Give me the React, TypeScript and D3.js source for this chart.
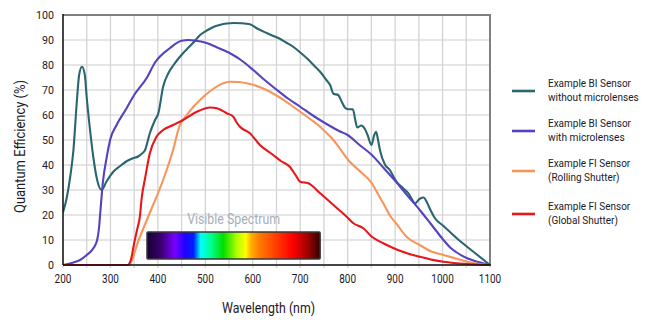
import React from "react";
import * as d3 from "d3";

// ---------- data ----------
const xTickValues = [200, 300, 400, 500, 600, 700, 800, 900, 1000, 1100];
const xGridValues = d3.range(200, 1101, 50);
const yTickValues = [0, 10, 20, 30, 40, 50, 60, 70, 80, 90, 100];

const biNoLensNm = [200, 208, 215, 222, 229, 234, 240, 246, 250, 257, 264, 272, 281, 292, 306, 320, 334, 345, 359, 366, 373, 383, 394, 401, 411, 422, 433, 443, 452, 462, 475, 489, 505, 517, 530, 545, 560, 575, 594, 610, 629, 645, 657, 670, 685, 700, 714, 728, 742, 755, 763, 770, 780, 787, 794, 801, 811, 816, 820, 829, 836, 842, 850, 856, 860, 864, 868, 879, 889, 896, 903, 917, 928, 935, 942, 952, 960, 966, 972, 984, 1002, 1030, 1065, 1100];
const biNoLensQe = [21, 27, 35, 46, 65, 76, 79.3, 76, 67, 54, 43, 34, 30, 33.5, 37.3, 39.5, 41.5, 42.5, 43.5, 44.5, 46, 52.7, 58, 60.7, 71.3, 76.7, 80, 82.5, 84.5, 86.5, 89, 92, 94, 95.2, 96, 96.6, 96.8, 96.7, 96.3, 94.5, 92.8, 91.5, 90.5, 89, 87.3, 85, 82.7, 80, 77.3, 74, 72, 68.5, 68, 65.5, 63, 62.3, 62.3, 58, 55, 55.8, 54.5, 52, 48, 52, 53.3, 50, 46, 40, 38, 35.5, 33.3, 30.7, 28.7, 26.5, 24.7, 26.5, 27, 25.5, 23, 18.7, 15.6, 10.7, 5.3, 0];

const biLensNm = [200, 222, 236, 250, 264, 272, 276, 279, 284, 292, 300, 313, 334, 350, 376, 394, 425, 450, 465, 480, 499, 525, 552, 575, 601, 625, 651, 675, 700, 725, 752, 783, 800, 825, 851, 875, 902, 925, 952, 975, 1002, 1016, 1030, 1052, 1075, 1100];
const biLensQe = [0, 1, 2, 4, 6.7, 10, 15, 22, 33, 43, 50.5, 56, 62.7, 68, 74.7, 81, 86.7, 89.7, 90, 89.7, 89, 87, 84.7, 82, 78, 74, 70, 66.5, 63.3, 60, 56.8, 53.5, 52, 48, 44, 39, 33.3, 28, 22, 16.5, 10, 7, 5, 2.7, 1.2, 0];

const fiRollingNm = [200, 338, 360, 380, 411, 432, 445, 461, 475, 496, 517, 535, 552, 570, 594, 610, 629, 657, 680, 700, 720, 742, 757, 770, 783, 801, 823, 851, 865, 875, 890, 902, 924, 952, 975, 1002, 1030, 1052, 1075, 1100];
const fiRollingQe = [0, 0, 10.3, 19.5, 34, 46, 55.3, 60, 63.3, 67.3, 70.5, 72.5, 73.3, 73.2, 72.4, 71.5, 70, 67, 64, 61.3, 58.5, 55.3, 52.5, 50, 46.7, 42, 38, 32.7, 28, 24.7, 19.5, 16.7, 11.3, 8, 5.5, 4, 2.5, 1.3, 0.5, 0];

const fiGlobalNm = [200, 336, 343, 350, 356, 362, 366, 373, 383, 397, 411, 432, 453, 482, 510, 524, 545, 559, 566, 573, 594, 615, 643, 660, 678, 690, 700, 717, 742, 770, 794, 812, 833, 851, 875, 902, 925, 952, 975, 1002, 1052, 1100];
const fiGlobalQe = [0, 0, 2, 8.7, 14, 19.3, 27, 34.7, 44.7, 51.3, 54, 56, 58, 61.3, 63, 62.7, 60.7, 59.3, 57, 55.3, 52.7, 48, 44, 41.5, 39.3, 36, 33.3, 32.7, 28.7, 24, 20, 16.7, 14.7, 11.3, 8.7, 6.3, 4.7, 3.3, 2.2, 1.3, 0.4, 0];

const seriesLabels = [
  ["Example BI Sensor", "without microlenses"],
  ["Example BI Sensor", "with microlenses"],
  ["Example FI Sensor", "(Rolling Shutter)"],
  ["Example FI Sensor", "(Global Shutter)"],
];
const seriesColors = ["#2a6670", "#5344bd", "#f7955a", "#e8161b"];

const spectrumNm = [377, 742];
const spectrumQe = [2.4, 13.2];
const spectrumStops: [number, string][] = [
  [0, "#180030"],
  [0.08, "#3a0070"],
  [0.16, "#7a00ff"],
  [0.22, "#2000ff"],
  [0.27, "#0020ff"],
  [0.31, "#00ffff"],
  [0.37, "#00ff90"],
  [0.44, "#00dd00"],
  [0.52, "#b0ff00"],
  [0.57, "#ffff00"],
  [0.6, "#ffb000"],
  [0.65, "#ff7a00"],
  [0.75, "#ff3a00"],
  [0.84, "#ff0000"],
  [0.93, "#a00000"],
  [1, "#300000"],
];

const FONT = "Roboto, 'Liberation Sans', Arial, sans-serif";
const TXT = "#1a1a2a";

let measureCtx: CanvasRenderingContext2D | null = null;
const measure = (s: string, size: number) => {
  if (!measureCtx) {
    const c = document.createElement("canvas");
    measureCtx = c.getContext("2d");
  }
  if (!measureCtx) return s.length * size * 0.5;
  measureCtx.font = `${size}px Roboto, 'Liberation Sans', Arial, sans-serif`;
  return measureCtx.measureText(s).width;
};

// text drawn in Roboto, horizontally condensed to the reference's width
function NText(props: { x: number; y: number; s: string; size: number; width: number; anchor?: string; fill?: string; rotate?: boolean }) {
  const { x, y, s, size, width, anchor = "start", fill = TXT, rotate = false } = props;
  const natural = measure(s, size);
  const k = natural > 0 ? width / natural : 1;
  const tf = rotate
    ? `translate(${x},${y}) rotate(-90) scale(${k},1)`
    : `translate(${x},${y}) scale(${k},1)`;
  return (
    <text x={0} y={0} transform={tf} textAnchor={anchor} fontFamily={FONT} fontSize={size} fill={fill}>
      {s}
    </text>
  );
}

export default function App() {
  const x = d3.scaleLinear().domain([200, 1100]).range([63, 490]);
  const y = d3.scaleLinear().domain([0, 100]).range([265, 15]);

  const series = [
    { nm: biNoLensNm, qe: biNoLensQe },
    { nm: biLensNm, qe: biLensQe },
    { nm: fiRollingNm, qe: fiRollingQe },
    { nm: fiGlobalNm, qe: fiGlobalQe },
  ];

  const line = d3
    .line<[number, number]>()
    .x((d) => x(d[0]))
    .y((d) => y(d[1]))
    .curve(d3.curveMonotoneX);

  const legendY = [91, 131, 171, 214];
  const legendWidths = [
    [83, 90.7],
    [83, 76.7],
    [82.3, 71.7],
    [82.3, 70],
  ];
  const [x0, x1] = x.range();
  const [yb, yt] = y.range();

  return (
    <div style={{ position: "fixed", left: 0, top: 0 }}>
      <svg width={645} height={324} style={{ display: "block", background: "#fff" }}>
        <defs>
          <linearGradient id="spec" x1="0" x2="1" y1="0" y2="0">
            {spectrumStops.map(([o, c], i) => (
              <stop key={i} offset={o} stopColor={c} />
            ))}
          </linearGradient>
          <clipPath id="plotClip">
            <rect x={x0} y={yt - 2} width={x1 - x0} height={yb - yt + 4} />
          </clipPath>
        </defs>

        {/* grid */}
        {yTickValues.map((v) => (
          <line key={"h" + v} x1={x0} x2={x1} y1={y(v)} y2={y(v)} stroke="#dcdcdc" strokeWidth={1.3} />
        ))}
        {xGridValues.map((v) => (
          <line key={"v" + v} x1={x(v)} x2={x(v)} y1={yt} y2={yb + 3} stroke="#d4d4d4" strokeWidth={1.3} />
        ))}

        {/* frame top/right */}
        <line x1={x0} x2={x1 + 1} y1={yt} y2={yt} stroke="#808080" strokeWidth={2} />
        <line x1={x1} x2={x1} y1={yt} y2={yb} stroke="#808080" strokeWidth={2} />

        {/* visible spectrum */}
        <NText
          x={(x(spectrumNm[0]) + x(spectrumNm[1])) / 2}
          y={y(spectrumQe[1]) - 8}
          anchor="middle"
          s="Visible Spectrum"
          size={15.5}
          width={93}
          fill="#a7aebb"
        />
        <rect
          x={x(spectrumNm[0])}
          y={y(spectrumQe[1])}
          width={x(spectrumNm[1]) - x(spectrumNm[0])}
          height={y(spectrumQe[0]) - y(spectrumQe[1])}
          fill="url(#spec)"
          stroke="#3a3a3a"
          strokeWidth={1.5}
          rx={1}
        />

        {/* series */}
        <g clipPath="url(#plotClip)">
          {series.map((s, i) => (
            <path
              key={i}
              d={line(s.nm.map((n, j) => [n, s.qe[j]] as [number, number])) || ""}
              fill="none"
              stroke={seriesColors[i]}
              strokeWidth={2.1}
              strokeLinejoin="round"
            />
          ))}
        </g>

        {/* axes */}
        <line x1={x0} x2={x0} y1={yt - 1} y2={yb} stroke="#111" strokeWidth={1.5} />
        <line x1={x0} x2={x1 + 1} y1={yb} y2={yb} stroke="#111" strokeWidth={1.5} />

        {yTickValues.map((v) => (
          <NText key={"yl" + v} x={54} y={y(v) + 4} anchor="end" s={String(v)} size={11.5} width={String(v).length * 6} />
        ))}
        {xTickValues.map((v) => (
          <NText key={"xl" + v} x={x(v)} y={283} anchor="middle" s={String(v)} size={13} width={String(v).length * 5.6} />
        ))}

        <NText x={268.5} y={313} anchor="middle" s="Wavelength (nm)" size={15.5} width={93} />
        <NText x={25} y={146.5} rotate anchor="middle" s="Quantum Efficiency (%)" size={14.5} width={133} />

        {/* legend */}
        {seriesLabels.map((lab, i) => (
          <g key={"lg" + i}>
            <line x1={512} x2={535} y1={legendY[i]} y2={legendY[i]} stroke={seriesColors[i]} strokeWidth={2.6} />
            <NText x={548} y={legendY[i] - 4.5} s={lab[0]} size={11.8} width={legendWidths[i][0]} />
            <NText x={548} y={legendY[i] + 9.5} s={lab[1]} size={11.8} width={legendWidths[i][1]} />
          </g>
        ))}
      </svg>
    </div>
  );
}
